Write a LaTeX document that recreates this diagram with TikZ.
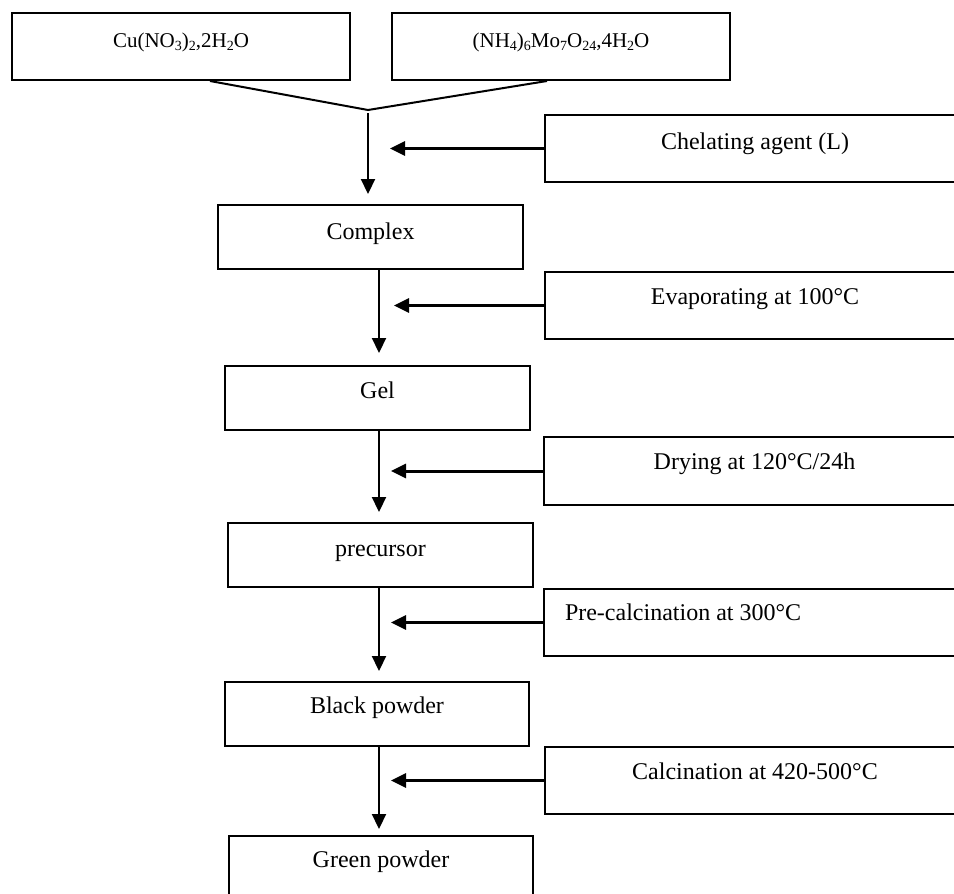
\documentclass[tikz,border=0pt]{standalone}
\usepackage{fontspec}
\setmainfont{Liberation Serif}
\usetikzlibrary{arrows.meta}
\newcommand{\sbs}[1]{\raisebox{-3.5pt}{\fontsize{14pt}{14pt}\selectfont #1}}
\tikzset{
  box/.style={draw, line width=2pt, inner sep=0pt, anchor=base,
    font=\fontsize{24pt}{28pt}\selectfont},
  topbox/.style={box, font=\fontsize{21pt}{25pt}\selectfont},
  arr/.style={line width=2.2pt, -{Triangle[length=15pt,width=14pt]}},
  harr/.style={arr, line width=3pt},
  vline/.style={line width=2pt},
}
\begin{document}
\begin{tikzpicture}[x=1pt, y=-1pt]
\useasboundingbox (0,0) rectangle (954,894);
% top inputs
\node[topbox, minimum width=338pt, text height=34pt, text depth=33pt] (cu) at (181,47) {Cu(NO\sbs{3})\sbs{2},2H\sbs{2}O};
\node[topbox, minimum width=338pt, text height=34pt, text depth=33pt] (nh) at (561,47) {(NH\sbs{4})\sbs{6}Mo\sbs{7}O\sbs{24},4H\sbs{2}O};
\coordinate (apex) at (368,110);
\coordinate (ax) at (379,0);
% main chain
\node[box, minimum width=305pt, text height=34pt, text depth=30pt] (complex) at (370.5,239) {Complex};
\node[box, minimum width=305pt, text height=32pt, text depth=32pt] (gel) at (377.5,398) {Gel};
\node[box, minimum width=305pt, text height=33pt, text depth=31pt] (prec) at (380.5,556) {precursor};
\node[box, minimum width=304pt, text height=31pt, text depth=33pt] (black) at (377,713) {Black powder};
\node[box, minimum width=304pt, text height=31pt, text depth=38pt] (green) at (381,867) {Green powder};
% side steps
\node[box, minimum width=420pt, text height=34pt, text depth=33pt] (chel) at (755,149) {Chelating agent (L)};
\node[box, minimum width=420pt, text height=32pt, text depth=35pt] (evap) at (755,304) {Evaporating at 100°C};
\node[box, minimum width=421pt, text height=32pt, text depth=36pt] (dry) at (754.5,469) {Drying at 120°C/24h};
\node[box, minimum width=421pt, text height=31pt, text depth=36pt] (pre) at (754.5,620) {\makebox[379pt][l]{Pre-calcination at 300°C}};
\node[box, minimum width=420pt, text height=32pt, text depth=35pt] (calc) at (755,779) {Calcination at 420-500°C};
% connectors
\draw[vline] ([xshift=29pt]cu.south) -- (apex) -- ([xshift=-14pt]nh.south);
\draw[arr, shorten <=3pt, shorten >=10pt] (apex) -- (complex.north -| apex);
\draw[harr, shorten >=22pt] (chel.west) -- (chel.west -| apex);
\draw[arr, shorten >=12pt] (complex.south -| ax) -- (gel.north -| ax);
\draw[harr, shorten >=15pt] (evap.west) -- (evap.west -| ax);
\draw[arr, shorten >=10pt] (gel.south -| ax) -- (prec.north -| ax);
\draw[harr, shorten >=12pt] (dry.west) -- (dry.west -| ax);
\draw[arr, shorten >=10pt] (prec.south -| ax) -- (black.north -| ax);
\draw[harr, shorten >=12pt] (pre.west) -- (pre.west -| ax);
\draw[arr, shorten >=6pt] (black.south -| ax) -- (green.north -| ax);
\draw[harr, shorten >=12pt] (calc.west) -- (calc.west -| ax);
\end{tikzpicture}
\end{document}
